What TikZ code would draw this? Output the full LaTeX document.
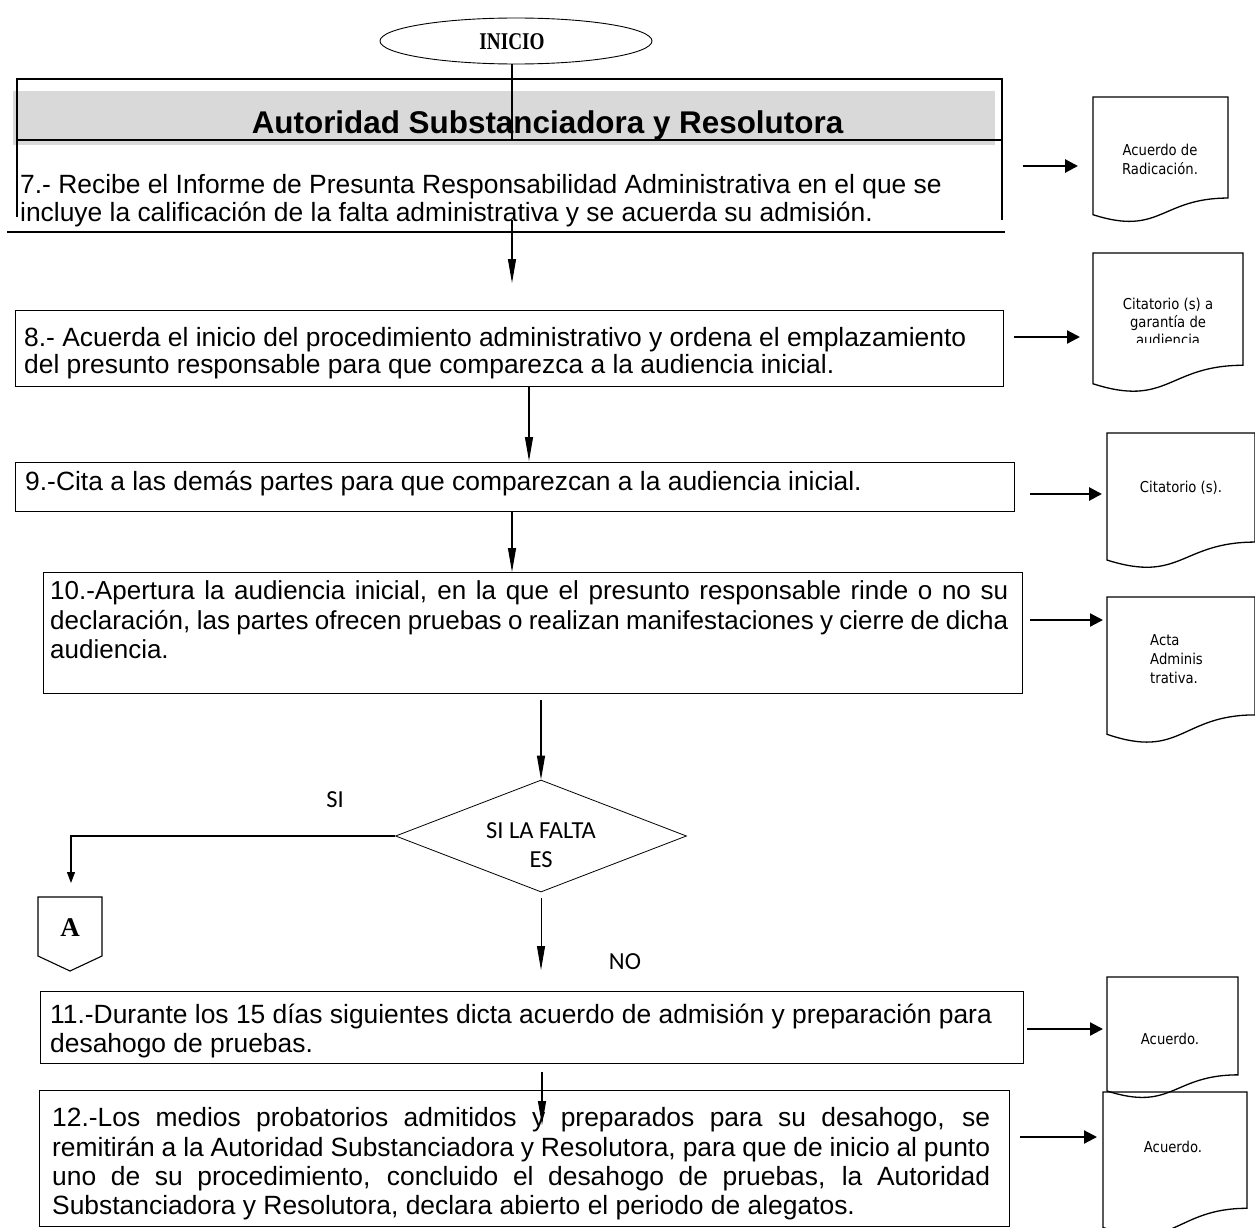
\documentclass[tikz,border=0pt]{standalone}
\usepackage{fontspec}
\setmainfont{Liberation Sans}
\newfontfamily\docfont{DejaVu Sans}
\newfontfamily\serifbold{Liberation Serif}
\newfontfamily\labelfont{Carlito}
\usetikzlibrary{arrows.meta,shapes.geometric}
\newcommand\flowdoc[4]{% x1, x2, top, h
  \draw[docline] (#1,#3) -- (#2,#3) -- (#2,{#3+0.802*#4})
    .. controls ({(#1+#2)/2},{#3+0.802*#4}) and ({(#1+#2)/2},{#3+1.107*#4}) ..
    (#1,{#3+0.934*#4}) -- cycle;}
\newcommand\dtxt[1]{\scalebox{0.88}[1]{#1}}
\begin{document}
\begin{tikzpicture}[x=1pt,y=-1pt,
  bodytext/.style={anchor=base west, inner sep=0pt, font=\fontsize{26.4}{30}\selectfont},
  doctext/.style={anchor=base, inner sep=0pt, font=\docfont\fontsize{15}{18}\selectfont},
  frame/.style={draw, line width=1.3pt, inner sep=0pt, anchor=north west},
  docline/.style={draw, line width=1.3pt},
  varrow/.style={line width=1.2pt, -{Triangle[length=24pt,width=8pt]}},
  harrow/.style={line width=2.2pt, -{Triangle[length=13pt,width=13pt]}},
  plainline/.style={line width=1.2pt},
  lbl/.style={inner sep=0pt, font=\labelfont\fontsize{24.5}{28}\selectfont}
]
\useasboundingbox (0,0) rectangle (1255,1228);
\fill[white] (0,0) rectangle (1255,1228);

% INICIO
\node[ellipse, draw, line width=0.9pt, minimum width=272, minimum height=46, inner sep=0pt] (inicio) at (516,41) {};
\node[inner sep=0pt, font=\serifbold\bfseries\fontsize{24}{28}\selectfont] (iniciotxt) at (512,42) {\scalebox{0.8}[1]{INICIO}};

% header
\fill[black!15] (13,91) rectangle (995,145);
\coordinate (hTL) at (17,79);
\coordinate (hTR) at (1002,79);
\coordinate (hBL) at (17,217);
\coordinate (hBR) at (1002,220);
\draw[line width=1.6pt] (hBL) -- (hTL) -- (hTR) -- (hBR);
\draw[line width=1.6pt] (17,140) coordinate (sepL) -- (1002,140) coordinate (sepR);
\draw[line width=2.6pt] (7,232) coordinate (botL) -- (1005,232) coordinate (botR);
\node[anchor=base, inner sep=0pt, font=\bfseries\fontsize{31.4}{36}\selectfont] (title) at (547.5,134) {Autoridad Substanciadora y Resolutora};
\coordinate (sepM) at (512,140);
\draw[plainline] (sepM |- inicio.south) -- (sepM);

% step 7
\node[bodytext] (t7a) at (20,193) {7.- Recibe el Informe de Presunta Responsabilidad Administrativa en el que se};
\node[bodytext] (t7b) at (20,221) {incluye la calificación de la falta administrativa y se acuerda su admisión.};
\coordinate (a7s) at (512,220);
\coordinate (a7e) at (512,283);
\draw[varrow] (a7s) -- (a7e);

% step 8
\node[frame, minimum width=988, minimum height=76] (b8) at (15,310) {};
\node[bodytext] (t8a) at (24,346) {8.- Acuerda el inicio del procedimiento administrativo y ordena el emplazamiento};
\node[bodytext] (t8b) at (24,373) {del presunto responsable para que comparezca a la audiencia inicial.};
\coordinate (a8e) at (529,461);
\draw[varrow] (b8.south -| a8e) -- (a8e);

% step 9
\node[frame, minimum width=999, minimum height=49, line width=1pt] (b9) at (15,462) {};
\node[bodytext] (t9) at (25,490) {9.-Cita a las demás partes para que comparezcan a la audiencia inicial.};
\coordinate (a9e) at (512,572);
\draw[varrow] (b9.south -| a9e) -- (a9e);

% step 10
\node[frame, minimum width=979, minimum height=121, line width=1pt] (b10) at (43,572) {};
\node[bodytext, font=\fontsize{26}{30}\selectfont] (t10a) at (50,599) {\makebox[958pt][s]{10.-Apertura la audiencia inicial, en la que el presunto responsable rinde o no su}};
\node[bodytext, font=\fontsize{26}{30}\selectfont] (t10b) at (50,629) {\makebox[958pt][s]{declaración, las partes ofrecen pruebas o realizan manifestaciones y cierre de dicha}};
\node[bodytext, font=\fontsize{26}{30}\selectfont] (t10c) at (50,658) {audiencia.};
\coordinate (a10s) at (541,700);

% decision
\node[diamond, draw, line width=0.8pt, minimum width=291, minimum height=112, inner sep=0pt] (dia) at (541,836) {};
\draw[varrow] (a10s) -- (dia.north);
\node[lbl] (dia1) at (541,831) {SI LA FALTA};
\node[lbl] (dia2) at (541,860) {ES};
\node[lbl] (si) at (335,800) {SI};
\coordinate (siE) at (71,883);
\draw[line width=1.2pt, -{Triangle[length=11pt,width=8pt]}] (dia.west) -- (siE |- dia.west) -- (siE);

% connector A
\draw[line width=1.1pt] (38,897) coordinate (Atl) -- (102,897) -- (102,956) -- (70,971) coordinate (Apt) -- (38,956) -- cycle;
\node[inner sep=0pt, font=\serifbold\bfseries\fontsize{27}{30}\selectfont] (Atxt) at (70,928) {A};

\coordinate (noS) at (541,898);
\coordinate (noE) at (541,970);
\draw[varrow, line width=0.9pt] (noS) -- (noE);
\node[lbl] (no) at (625,962) {NO};

% step 11
\node[frame, minimum width=983, minimum height=72, line width=1pt] (b11) at (40,991) {};
\node[bodytext] (t11a) at (50,1023) {11.-Durante los 15 días siguientes dicta acuerdo de admisión y preparación para};
\node[bodytext] (t11b) at (50,1052) {desahogo de pruebas.};
\coordinate (a11s) at (542,1072);
\coordinate (a11e) at (542,1125);
\draw[varrow] (a11s) -- (a11e);

% step 12
\node[frame, minimum width=970, minimum height=136, line width=1.4pt] (b12) at (39,1090) {};
\node[bodytext] (t12a) at (52,1126) {\makebox[938pt][s]{12.-Los medios probatorios admitidos y preparados para su desahogo, se}};
\node[bodytext] (t12b) at (52,1156) {\makebox[938pt][s]{remitirán a la Autoridad Substanciadora y Resolutora, para que de inicio al punto}};
\node[bodytext] (t12c) at (52,1185) {\makebox[938pt][s]{uno de su procedimiento, concluido el desahogo de pruebas, la Autoridad}};
\node[bodytext] (t12d) at (52,1214) {Substanciadora y Resolutora, declara abierto el periodo de alegatos.};

% documents
\flowdoc{1093}{1228}{97}{126}
\node[doctext] (d1a) at (1160,155) {\dtxt{Acuerdo de}};
\node[doctext] (d1b) at (1160,174) {\dtxt{Radicación.}};
\draw[harrow, line width=2.8pt] (1023,166) coordinate (h1s) -- (1078,166) coordinate (h1e);

\flowdoc{1093}{1243}{253}{140}
\begin{scope}
\clip (1095,255) rectangle (1240,342);
\node[doctext] (d2a) at (1168,309) {\dtxt{Citatorio (s) a}};
\node[doctext] (d2b) at (1168,327) {\dtxt{garantía de}};
\node[doctext] (d2c) at (1168,345) {\dtxt{audiencia}};
\end{scope}
\draw[harrow] (1014,337) coordinate (h2s) -- (1080,337) coordinate (h2e);

\flowdoc{1107}{1255}{433}{136}
\node[doctext] (d3) at (1181,492) {\dtxt{Citatorio (s).}};
\draw[harrow, line width=2.8pt] (1030,494) coordinate (h3s) -- (1102,494) coordinate (h3e);

\flowdoc{1107}{1255}{597}{147}
\node[doctext, anchor=base west] (d4a) at (1150,645) {\dtxt{Acta}};
\node[doctext, anchor=base west] (d4b) at (1150,664) {\dtxt{Adminis}};
\node[doctext, anchor=base west] (d4c) at (1150,683) {\dtxt{trativa.}};
\draw[harrow] (1030,620) coordinate (h4s) -- (1103,620) coordinate (h4e);

\flowdoc{1107}{1238}{977}{122}
\node[doctext] (d5) at (1170,1044) {\dtxt{Acuerdo.}};
\draw[harrow] (1027,1029) coordinate (h5s) -- (1103,1029) coordinate (h5e);

\flowdoc{1103}{1247}{1092}{145}
\node[doctext] (d6) at (1173,1152) {\dtxt{Acuerdo.}};
\draw[harrow] (1020,1137) coordinate (h6s) -- (1097,1137) coordinate (h6e);
\end{tikzpicture}
\end{document}
